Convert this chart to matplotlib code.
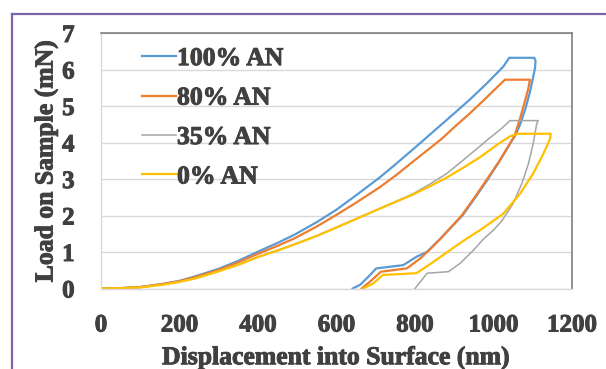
import matplotlib
matplotlib.use("Agg")
import matplotlib.pyplot as plt
from matplotlib.lines import Line2D
import matplotlib.patheffects as pe

# nanoindentation load-displacement curves (loading, hold, unloading)
blue_x = [0, 50, 100, 155, 200, 239, 300, 350, 400, 450, 494, 550, 600, 647, 711, 750, 800, 850, 900, 940,
          983, 1025, 1040,
          1104, 1107, 1106, 1100, 1092, 1082, 1068, 1056, 1044, 1016, 986, 954, 921, 887, 864, 830,
          804, 770, 701, 681, 660, 641]
blue_y = [0, 0.01, 0.04, 0.12, 0.21, 0.33, 0.54, 0.76, 1.01, 1.25, 1.48, 1.82, 2.16, 2.53, 3.05, 3.40, 3.86, 4.33,
          4.80, 5.18, 5.62, 6.08, 6.32,
          6.32, 6.24, 6.05, 5.74, 5.35, 4.95, 4.5, 4.2, 4.0, 3.5, 3.0, 2.5, 2.0, 1.62, 1.36, 1.0,
          0.87, 0.64, 0.55, 0.32, 0.1, 0]

orange_x = [0, 50, 100, 155, 200, 239, 300, 350, 400, 450, 494, 550, 600, 647, 711, 750, 800, 868, 900, 940,
            983, 1029,
            1093, 1088, 1078, 1066, 1054, 1042, 1014, 984, 952, 919, 885, 864, 838, 813, 779, 713, 690, 664]
orange_y = [0, 0.01, 0.04, 0.12, 0.20, 0.31, 0.51, 0.72, 0.95, 1.17, 1.38, 1.70, 2.02, 2.33, 2.78, 3.09, 3.52,
            4.10, 4.42, 4.80, 5.24, 5.72,
            5.72, 5.45, 5.05, 4.6, 4.2, 3.97, 3.48, 3.0, 2.5, 2.0, 1.6, 1.35, 1.07, 0.82, 0.55, 0.46, 0.23, 0]

gray_x = [0, 50, 100, 155, 200, 239, 300, 350, 400, 450, 494, 550, 600, 647, 711, 750, 796, 838, 881, 923, 960,
          990, 1020, 1042,
          1114, 1110, 1101, 1089, 1072, 1050, 1021, 1000, 974, 949, 915, 885, 831, 800]
gray_y = [0, 0.01, 0.03, 0.11, 0.19, 0.28, 0.48, 0.66, 0.87, 1.05, 1.22, 1.45, 1.68, 1.90, 2.20, 2.38, 2.60,
          2.86, 3.15, 3.52, 3.85, 4.12, 4.38, 4.60,
          4.60, 4.51, 3.96, 3.42, 2.87, 2.33, 1.85, 1.6, 1.35, 1.05, 0.69, 0.46, 0.42, 0]

yellow_x = [0, 50, 100, 155, 200, 239, 300, 350, 400, 450, 494, 550, 600, 647, 711, 750, 796, 838, 881, 923, 966,
            1008, 1042, 1063,
            1146, 1144, 1127, 1101, 1068, 1025, 995, 966, 932, 889, 847, 804, 718, 694, 668]
yellow_y = [0, 0.01, 0.03, 0.10, 0.18, 0.27, 0.47, 0.65, 0.86, 1.04, 1.21, 1.44, 1.67, 1.89, 2.19, 2.37, 2.58,
            2.80, 3.04, 3.31, 3.60, 3.93, 4.17, 4.24,
            4.24, 4.1, 3.69, 3.15, 2.60, 2.05, 1.82, 1.60, 1.37, 1.05, 0.73, 0.42, 0.37, 0.14, 0]

labels = ["100% AN", "80% AN", "35% AN", "0% AN"]
xticks = [0, 200, 400, 600, 800, 1000, 1200]
yticks = [0, 1, 2, 3, 4, 5, 6, 7]

plt.rcParams["font.family"] = ["Liberation Serif", "DejaVu Serif"]
txt = "#404040"
heavy = [pe.withStroke(linewidth=0.7, foreground=txt)]

fig = plt.figure(figsize=(6.06, 3.69), dpi=100)
ax = fig.add_axes([101 / 606, 1 - 288.5 / 369, 471 / 606, 255.5 / 369])

series = [
    (blue_x, blue_y, "#5B9BD5", 1.6),
    (orange_x, orange_y, "#ED7D31", 1.6),
    (gray_x, gray_y, "#A5A5A5", 1.1),
    (yellow_x, yellow_y, "#FFC000", 1.6),
]
for (x, y, c, lw), lab in zip(series, labels):
    ax.plot(x, y, color=c, lw=lw, label=lab, solid_joinstyle="round")

ax.set_xlim(0, 1200)
ax.set_ylim(0, 7)
ax.set_xticks(xticks)
ax.set_yticks(yticks)
ax.tick_params(length=0, labelsize=18, colors=txt)
ax.tick_params(axis="y", pad=19)
ax.tick_params(axis="x", pad=18)
for t in ax.get_xticklabels() + ax.get_yticklabels():
    t.set_fontweight("bold")
    t.set_path_effects(heavy)
ax.grid(axis="y", color="#d9d9d9", lw=1)
ax.set_axisbelow(True)
for s in ["top", "right"]:
    ax.spines[s].set_color("#808080")
    ax.spines[s].set_linewidth(1.2)
for s in ["left", "bottom"]:
    ax.spines[s].set_color("#d9d9d9")
    ax.spines[s].set_linewidth(1)

xl = ax.set_xlabel("Displacement into Surface (nm)", fontsize=18.5, fontweight="bold", color=txt, labelpad=7)
yl = ax.set_ylabel("Load on Sample (mN)", fontsize=18.5, fontweight="bold", color=txt, labelpad=3)
xl.set_path_effects(heavy)
yl.set_path_effects(heavy)

leg = ax.legend(loc="upper left", bbox_to_anchor=(0.055, 1.005), frameon=False,
                prop={"size": 18.5, "weight": "bold"},
                handlelength=1.3, handletextpad=0.05, labelspacing=0.64, borderaxespad=0.2)
for t in leg.get_texts():
    t.set_color(txt)
    t.set_fontweight("bold")
    t.set_path_effects(heavy)

# purple frame around the figure panel
fig.add_artist(Line2D([12 / 606, 1.0], [1 - 14 / 369, 1 - 14 / 369], color="#7F63A8", lw=1.6,
                      transform=fig.transFigure))
fig.add_artist(Line2D([12 / 606, 12 / 606], [0, 1 - 14 / 369], color="#7F63A8", lw=1.6,
                      transform=fig.transFigure))

fig.savefig("out.png", dpi=100)
